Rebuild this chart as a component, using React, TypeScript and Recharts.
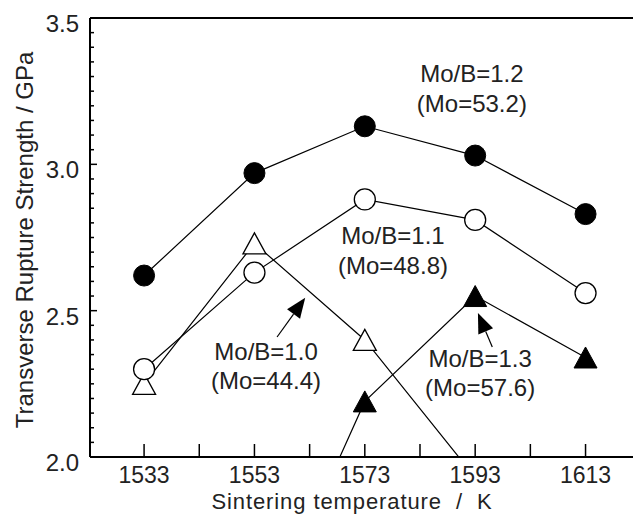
import React from 'react';
import { LineChart, Line, XAxis, YAxis, ReferenceLine, ReferenceDot } from 'recharts';

// Sintering temperature (K)
const temps = [1533, 1553, 1573, 1593, 1613];

// Transverse rupture strength (GPa) per Mo/B ratio
const moB10 = [2.25, 2.73, 2.40, 1.93, null];
const moB11 = [2.30, 2.63, 2.88, 2.81, 2.56];
const moB12 = [2.62, 2.97, 3.13, 3.03, 2.83];
const moB13 = [null, 1.35, 2.19, 2.55, 2.34];

const xTicks = [1533, 1543, 1553, 1563, 1573, 1583, 1593, 1603, 1613];
const xLabelTicks = [1533, 1553, 1573, 1593, 1613];
const yMajorTicks = [2.0, 2.5, 3.0, 3.5];
const yTicks = yMajorTicks.flatMap((v, i) =>
    i === yMajorTicks.length - 1 ? [v] : Array.from({ length: 10 }, (_, k) => +(v + k * 0.05).toFixed(2))
);

// annotation labels: [line1, line2, temp, strength]
const notes: [string, string, number, number][] = [
    ['Mo/B=1.2', '(Mo=53.2)', 1592.4, 3.309],
    ['Mo/B=1.1', '(Mo=48.8)', 1578.1, 2.756],
    ['Mo/B=1.0', '(Mo=44.4)', 1555.1, 2.362],
    ['Mo/B=1.3', '(Mo=57.6)', 1593.9, 2.338],
];
// arrows: tail -> tip
const arrows = [
    [{ x: 1557.1, y: 2.41 }, { x: 1562.2, y: 2.544 }],
    [{ x: 1596.1, y: 2.376 }, { x: 1593.5, y: 2.492 }],
];

const data = temps.map((t, i) => ({ t, a: moB10[i], b: moB11[i], c: moB12[i], d: moB13[i] }));

const FONT = '"Liberation Sans", Arial, sans-serif';
const FS = 24;
const INK = '#222';

const makeDot = (kind: string) => (p: any) => {
    const { cx, cy, value, index } = p;
    if (value == null || value < 2 || cx == null || cy == null) return <g key={`${kind}-${index}`} />;
    const k = `${kind}-${index}`;
    if (kind === 'openCircle') return <circle key={k} cx={cx} cy={cy} r={10.5} fill="#fff" stroke="#000" strokeWidth={1.3} />;
    if (kind === 'fillCircle') return <circle key={k} cx={cx} cy={cy} r={10.5} fill="#000" stroke="#000" />;
    const pts = `${cx},${cy - 10.5} ${cx - 11.5},${cy + 10.5} ${cx + 11.5},${cy + 10.5}`;
    if (kind === 'openTri') return <polygon key={k} points={pts} fill="#fff" stroke="#000" strokeWidth={1.3} />;
    return <polygon key={k} points={pts} fill="#000" stroke="#000" />;
};

const XTick = (p: any) => {
    const { x, y, payload } = p;
    const v = payload.value;
    return (
        <g>
            <line x1={x} y1={y} x2={x} y2={y - 13} stroke="#000" strokeWidth={1.5} />
            {xLabelTicks.includes(v) && (
                <text x={x} y={y + 26} textAnchor="middle" fontSize={23} fontFamily={FONT} fill={INK}>{v}</text>
            )}
        </g>
    );
};

const YTick = (p: any) => {
    const { x, y, payload } = p;
    const v = payload.value;
    const major = yMajorTicks.some(m => Math.abs(m - v) < 1e-6);
    return (
        <g>
            <line x1={x} y1={y} x2={x + (major ? 7 : 4)} y2={y} stroke="#000" strokeWidth={1.5} />
            {major && (
                <text x={79} y={y + 14} textAnchor="end" fontSize={FS} fontFamily={FONT} fill={INK}>{v.toFixed(1)}</text>
            )}
        </g>
    );
};

const Arrow = (p: any) => {
    const { x1, y1, x2, y2 } = p;
    const ang = Math.atan2(y2 - y1, x2 - x1);
    const len = 20, hw = 8;
    const bx = x2 - len * Math.cos(ang), by = y2 - len * Math.sin(ang);
    const nx = -Math.sin(ang) * hw, ny = Math.cos(ang) * hw;
    return (
        <g>
            <line x1={x1} y1={y1} x2={bx} y2={by} stroke="#000" strokeWidth={1.2} />
            <polygon points={`${x2},${y2} ${bx + nx},${by + ny} ${bx - nx},${by - ny}`} fill="#000" />
        </g>
    );
};

const noteShape = (l1: string, l2: string) => (p: any) => (
    <g>
        <text x={p.cx} y={p.cy + 8.5} textAnchor="middle" fontSize={FS} fontFamily={FONT} fill={INK}>{l1}</text>
        <text x={p.cx} y={p.cy + 38} textAnchor="middle" fontSize={FS} fontFamily={FONT} fill={INK}>{l2}</text>
    </g>
);

export default function App() {
    return (
        <div style={{ position: 'absolute', left: 0, top: 0, background: '#fff' }}>
            <LineChart width={633} height={516} data={data} margin={{ top: 18, right: 0, bottom: 0, left: 0 }}>
                <XAxis
                    dataKey="t" type="number" domain={[1523.2, 1621.6]} ticks={xTicks} allowDataOverflow
                    height={59} tickSize={0} tickMargin={0} tick={<XTick />} tickLine={false}
                    axisLine={{ stroke: '#000', strokeWidth: 2 }}
                    label={{
                        content: () => (
                            <text x={352} y={509} textAnchor="middle" fontSize={22} letterSpacing={0.9} fontFamily={FONT} fill={INK} style={{ whiteSpace: 'pre' }}>
                                {'Sintering temperature  /  K'}
                            </text>
                        ),
                    }}
                />
                <YAxis
                    type="number" domain={[2, 3.5]} ticks={yTicks} allowDataOverflow interval={0}
                    width={90} tickSize={0} tickMargin={0} tick={<YTick />} tickLine={false}
                    axisLine={{ stroke: '#000', strokeWidth: 2 }}
                    label={{
                        content: () => (
                            <text x={33} y={240} transform="rotate(-90 33 240)" textAnchor="middle" fontSize={FS} fontFamily={FONT} fill={INK}>
                                Transverse Rupture Strength / GPa
                            </text>
                        ),
                    }}
                />
                <ReferenceLine y={3.5} stroke="#000" strokeWidth={2} />
                <Line type="linear" dataKey="a" stroke="#000" strokeWidth={1.2} dot={makeDot('openTri')} isAnimationActive={false} />
                <Line type="linear" dataKey="d" stroke="#000" strokeWidth={1.2} dot={makeDot('fillTri')} isAnimationActive={false} />
                <Line type="linear" dataKey="b" stroke="#000" strokeWidth={1.2} dot={makeDot('openCircle')} isAnimationActive={false} />
                <Line type="linear" dataKey="c" stroke="#000" strokeWidth={1.2} dot={makeDot('fillCircle')} isAnimationActive={false} />
                {arrows.map((seg, i) => (
                    <ReferenceLine key={`ar${i}`} segment={seg} shape={Arrow} />
                ))}
                {notes.map(([l1, l2, x, y]) => (
                    <ReferenceDot key={l1} x={x} y={y} r={0} shape={noteShape(l1, l2)} />
                ))}
            </LineChart>
        </div>
    );
}
